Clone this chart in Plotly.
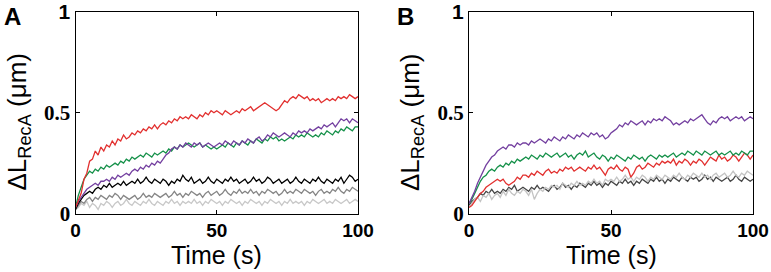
import plotly.graph_objects as go

TIME = list(range(0, 101))

# Panel A traces (ΔL_RecA, µm), one value per second
A_RED = [0.03, 0.07, 0.10, 0.17, 0.20, 0.26, 0.27, 0.31, 0.29, 0.33,
         0.31, 0.34, 0.33, 0.36, 0.34, 0.37, 0.36, 0.39, 0.37, 0.38,
         0.40, 0.39, 0.41, 0.40, 0.42, 0.41, 0.43, 0.42, 0.44, 0.42,
         0.44, 0.45, 0.44, 0.46, 0.45, 0.47, 0.46, 0.48, 0.47, 0.48,
         0.47, 0.49, 0.48, 0.47, 0.49, 0.48, 0.50, 0.49, 0.51, 0.50,
         0.51, 0.50, 0.49, 0.51, 0.50, 0.49, 0.50, 0.51, 0.50, 0.52,
         0.51, 0.52, 0.53, 0.51, 0.52, 0.53, 0.54, 0.55, 0.54, 0.53,
         0.52, 0.51, 0.52, 0.54, 0.56, 0.55, 0.57, 0.58, 0.57, 0.59,
         0.58, 0.57, 0.58, 0.56, 0.57, 0.56, 0.57, 0.55, 0.56, 0.57,
         0.56, 0.57, 0.56, 0.58, 0.57, 0.58, 0.57, 0.59, 0.58, 0.57, 0.58]
A_GREEN = [0.03, 0.09, 0.13, 0.17, 0.19, 0.21, 0.20, 0.22, 0.21, 0.23,
           0.22, 0.24, 0.23, 0.24, 0.25, 0.24, 0.26, 0.25, 0.27, 0.26,
           0.28, 0.27, 0.28, 0.29, 0.28, 0.30, 0.29, 0.28, 0.30, 0.29,
           0.30, 0.31, 0.30, 0.32, 0.31, 0.33, 0.32, 0.34, 0.33, 0.34,
           0.35, 0.34, 0.33, 0.34, 0.35, 0.33, 0.34, 0.33, 0.32, 0.33,
           0.32, 0.33, 0.34, 0.33, 0.35, 0.34, 0.33, 0.35, 0.34, 0.36,
           0.35, 0.34, 0.36, 0.35, 0.37, 0.36, 0.35, 0.37, 0.36, 0.38,
           0.37, 0.38, 0.36, 0.37, 0.36, 0.37, 0.38, 0.37, 0.39, 0.38,
           0.39, 0.38, 0.40, 0.39, 0.38, 0.39, 0.38, 0.40, 0.39, 0.41,
           0.40, 0.39, 0.41, 0.40, 0.42, 0.41, 0.43, 0.42, 0.41, 0.43, 0.43]
A_PURPLE = [0.03, 0.06, 0.08, 0.10, 0.12, 0.13, 0.14, 0.15, 0.14, 0.16,
            0.16, 0.17, 0.16, 0.18, 0.17, 0.19, 0.18, 0.19, 0.20, 0.19,
            0.21, 0.22, 0.21, 0.23, 0.22, 0.24, 0.23, 0.25, 0.24, 0.26,
            0.25, 0.27, 0.29, 0.30, 0.32, 0.33, 0.32, 0.34, 0.33, 0.35,
            0.34, 0.33, 0.35, 0.34, 0.35, 0.33, 0.34, 0.35, 0.34, 0.33,
            0.34, 0.35, 0.34, 0.36, 0.35, 0.34, 0.36, 0.35, 0.34, 0.36,
            0.35, 0.37, 0.36, 0.35, 0.37, 0.38, 0.36, 0.37, 0.39, 0.38,
            0.40, 0.39, 0.38, 0.39, 0.40, 0.39, 0.38, 0.40, 0.39, 0.41,
            0.40, 0.41, 0.40, 0.42, 0.41, 0.42, 0.43, 0.42, 0.44, 0.43,
            0.44, 0.45, 0.43, 0.45, 0.47, 0.46, 0.47, 0.45, 0.47, 0.46, 0.45]
A_BLACK = [0.02, 0.05, 0.07, 0.09, 0.10, 0.11, 0.10, 0.12, 0.13, 0.12,
           0.14, 0.13, 0.15, 0.13, 0.14, 0.15, 0.14, 0.16, 0.14, 0.15,
           0.16, 0.15, 0.17, 0.15, 0.16, 0.18, 0.16, 0.15, 0.17, 0.16,
           0.15, 0.17, 0.16, 0.14, 0.16, 0.15, 0.17, 0.16, 0.19, 0.17,
           0.16, 0.18, 0.15, 0.16, 0.17, 0.15, 0.16, 0.18, 0.16, 0.15,
           0.17, 0.16, 0.15, 0.17, 0.16, 0.18, 0.16, 0.17, 0.15, 0.16,
           0.17, 0.15, 0.16, 0.18, 0.16, 0.17, 0.15, 0.16, 0.18, 0.17,
           0.15, 0.16, 0.17, 0.15, 0.16, 0.17, 0.15, 0.16, 0.18, 0.16,
           0.15, 0.17, 0.16, 0.15, 0.17, 0.16, 0.18, 0.16, 0.15, 0.17,
           0.16, 0.15, 0.17, 0.16, 0.18, 0.15, 0.17, 0.19, 0.18, 0.16, 0.17]
A_DARKGRAY = [0.02, 0.04, 0.06, 0.05, 0.07, 0.08, 0.06, 0.08, 0.07, 0.09,
              0.08, 0.07, 0.09, 0.08, 0.10, 0.09, 0.07, 0.09, 0.08, 0.07,
              0.08, 0.09, 0.07, 0.08, 0.10, 0.08, 0.09, 0.08, 0.10, 0.09,
              0.08, 0.09, 0.10, 0.08, 0.09, 0.11, 0.09, 0.10, 0.08, 0.10,
              0.09, 0.11, 0.10, 0.09, 0.10, 0.08, 0.10, 0.11, 0.09, 0.10,
              0.11, 0.09, 0.10, 0.12, 0.10, 0.09, 0.11, 0.10, 0.12, 0.10,
              0.11, 0.10, 0.12, 0.10, 0.11, 0.09, 0.11, 0.10, 0.12, 0.11,
              0.10, 0.11, 0.09, 0.10, 0.12, 0.10, 0.11, 0.10, 0.12, 0.11,
              0.10, 0.12, 0.11, 0.10, 0.11, 0.09, 0.11, 0.12, 0.10, 0.11,
              0.10, 0.12, 0.11, 0.13, 0.11, 0.10, 0.12, 0.11, 0.13, 0.12, 0.11]
A_LIGHTGRAY = [0.02, 0.03, 0.05, 0.04, 0.06, 0.03, 0.05, 0.04, 0.02, 0.05,
               0.04, 0.06, 0.05, 0.03, 0.05, 0.06, 0.04, 0.05, 0.07, 0.05,
               0.04, 0.06, 0.05, 0.04, 0.06, 0.05, 0.07, 0.05, 0.04, 0.06,
               0.05, 0.04, 0.06, 0.05, 0.07, 0.05, 0.06, 0.04, 0.06, 0.05,
               0.06, 0.05, 0.07, 0.05, 0.06, 0.04, 0.06, 0.05, 0.07, 0.06,
               0.05, 0.06, 0.04, 0.06, 0.05, 0.07, 0.06, 0.05, 0.06, 0.04,
               0.06, 0.05, 0.07, 0.06, 0.05, 0.06, 0.04, 0.06, 0.05, 0.07,
               0.06, 0.05, 0.06, 0.04, 0.06, 0.05, 0.07, 0.05, 0.06, 0.05,
               0.06, 0.04, 0.06, 0.05, 0.07, 0.06, 0.05, 0.06, 0.07, 0.05,
               0.06, 0.05, 0.07, 0.06, 0.05, 0.06, 0.07, 0.05, 0.06, 0.07, 0.06]

# Panel B traces
B_PURPLE = [0.05, 0.08, 0.11, 0.15, 0.18, 0.21, 0.24, 0.26, 0.28, 0.29,
            0.31, 0.32, 0.33, 0.32, 0.34, 0.34, 0.33, 0.35, 0.34, 0.35,
            0.35, 0.34, 0.36, 0.35, 0.36, 0.37, 0.36, 0.35, 0.37, 0.36,
            0.38, 0.37, 0.36, 0.38, 0.37, 0.39, 0.38, 0.37, 0.39, 0.38,
            0.40, 0.39, 0.38, 0.40, 0.39, 0.40, 0.38, 0.39, 0.37, 0.38,
            0.40, 0.41, 0.42, 0.44, 0.43, 0.45, 0.44, 0.46, 0.45, 0.44,
            0.45, 0.46, 0.44, 0.46, 0.45, 0.47, 0.46, 0.47, 0.46, 0.48,
            0.47, 0.46, 0.44, 0.45, 0.44, 0.45, 0.46, 0.45, 0.47, 0.46,
            0.47, 0.48, 0.49, 0.47, 0.45, 0.44, 0.46, 0.45, 0.47, 0.48,
            0.47, 0.48, 0.46, 0.47, 0.48, 0.47, 0.48, 0.46, 0.47, 0.48, 0.47]
B_GREEN = [0.05, 0.07, 0.10, 0.13, 0.16, 0.18, 0.19, 0.21, 0.22, 0.21,
           0.23, 0.24, 0.23, 0.25, 0.24, 0.26, 0.25, 0.27, 0.26, 0.27,
           0.28, 0.27, 0.29, 0.28, 0.27, 0.29, 0.28, 0.30, 0.29, 0.28,
           0.29, 0.30, 0.28, 0.29, 0.30, 0.28, 0.29, 0.27, 0.29, 0.30,
           0.29, 0.31, 0.28, 0.29, 0.30, 0.28, 0.27, 0.29, 0.28, 0.26,
           0.28, 0.27, 0.29, 0.28, 0.27, 0.26, 0.28, 0.27, 0.29, 0.28,
           0.27, 0.28, 0.26, 0.28, 0.29, 0.28, 0.27, 0.29, 0.28, 0.29,
           0.28, 0.29, 0.30, 0.28, 0.29, 0.30, 0.29, 0.31, 0.30, 0.29,
           0.31, 0.30, 0.29, 0.31, 0.30, 0.29, 0.30, 0.31, 0.29, 0.30,
           0.29, 0.30, 0.31, 0.29, 0.30, 0.29, 0.31, 0.30, 0.29, 0.31, 0.31]
B_RED = [0.03, 0.04, 0.06, 0.08, 0.10, 0.11, 0.13, 0.14, 0.15, 0.16,
         0.17, 0.16, 0.17, 0.15, 0.14, 0.15, 0.16, 0.18, 0.17, 0.19,
         0.19, 0.18, 0.20, 0.19, 0.21, 0.20, 0.19, 0.21, 0.22, 0.20,
         0.21, 0.20, 0.22, 0.21, 0.23, 0.22, 0.23, 0.21, 0.22, 0.23,
         0.22, 0.21, 0.23, 0.22, 0.24, 0.22, 0.23, 0.21, 0.19, 0.22,
         0.23, 0.22, 0.24, 0.22, 0.21, 0.23, 0.22, 0.18, 0.20, 0.23,
         0.24, 0.22, 0.23, 0.25, 0.24, 0.23, 0.25, 0.24, 0.26, 0.25,
         0.26, 0.25, 0.27, 0.24, 0.26, 0.25, 0.27, 0.26, 0.24, 0.26,
         0.25, 0.27, 0.26, 0.24, 0.26, 0.28, 0.27, 0.26, 0.29, 0.27,
         0.28, 0.26, 0.27, 0.29, 0.28, 0.26, 0.28, 0.30, 0.29, 0.27, 0.29]
B_DARKGRAY = [0.04, 0.06, 0.07, 0.08, 0.10, 0.09, 0.11, 0.10, 0.12, 0.10,
              0.11, 0.10, 0.12, 0.11, 0.13, 0.12, 0.14, 0.11, 0.12, 0.13,
              0.12, 0.11, 0.13, 0.12, 0.14, 0.12, 0.13, 0.12, 0.11, 0.13,
              0.14, 0.12, 0.13, 0.15, 0.13, 0.14, 0.12, 0.14, 0.13, 0.15,
              0.14, 0.13, 0.15, 0.14, 0.16, 0.14, 0.15, 0.13, 0.15, 0.14,
              0.16, 0.15, 0.14, 0.16, 0.15, 0.17, 0.15, 0.16, 0.14, 0.16,
              0.15, 0.17, 0.16, 0.15, 0.17, 0.16, 0.18, 0.16, 0.17, 0.15,
              0.17, 0.16, 0.18, 0.17, 0.16, 0.18, 0.17, 0.16, 0.18, 0.17,
              0.18, 0.16, 0.17, 0.19, 0.17, 0.18, 0.16, 0.18, 0.17, 0.16,
              0.17, 0.18, 0.16, 0.17, 0.19, 0.17, 0.16, 0.18, 0.17, 0.16, 0.17]
B_LIGHTGRAY = [0.03, 0.05, 0.07, 0.08, 0.06, 0.09, 0.08, 0.10, 0.07, 0.09,
               0.10, 0.08, 0.11, 0.09, 0.12, 0.10, 0.09, 0.11, 0.10, 0.12,
               0.11, 0.09, 0.12, 0.07, 0.10, 0.12, 0.11, 0.13, 0.12, 0.14,
               0.13, 0.14, 0.12, 0.15, 0.14, 0.13, 0.15, 0.14, 0.16, 0.14,
               0.15, 0.14, 0.16, 0.15, 0.17, 0.15, 0.16, 0.14, 0.17, 0.16,
               0.17, 0.16, 0.18, 0.16, 0.17, 0.19, 0.17, 0.18, 0.16, 0.18,
               0.17, 0.19, 0.18, 0.16, 0.18, 0.17, 0.19, 0.18, 0.17, 0.19,
               0.18, 0.17, 0.19, 0.18, 0.20, 0.18, 0.17, 0.19, 0.18, 0.20,
               0.19, 0.18, 0.20, 0.18, 0.19, 0.17, 0.19, 0.20, 0.18, 0.19,
               0.20, 0.18, 0.19, 0.21, 0.19, 0.18, 0.20, 0.19, 0.21, 0.20, 0.19]

X_TICKS = [0, 50, 100]
X_TICK_TEXT = ["0", "50", "100"]
Y_TICKS = [0, 0.5, 1]
Y_TICK_TEXT = ["0", "0.5", "1"]
PANEL_LABELS = ["A", "B"]
X_TITLE = "Time (s)"
Y_TITLE = "ΔL<sub>RecA</sub> (μm)"

RED = "#e2302f"
GREEN = "#16914a"
PURPLE = "#7440a0"
BLACK = "#000000"

panel_a = [(A_LIGHTGRAY, "#c8c8c8"), (A_DARKGRAY, "#858585"), (A_BLACK, BLACK),
           (A_GREEN, GREEN), (A_PURPLE, PURPLE), (A_RED, RED)]
panel_b = [(B_DARKGRAY, "#454545"), (B_LIGHTGRAY, "#c4c4c4"), (B_RED, RED),
           (B_GREEN, GREEN), (B_PURPLE, PURPLE)]

fig = go.Figure()
for vals, col in panel_a:
    fig.add_trace(go.Scatter(x=TIME, y=vals, mode="lines", line=dict(color=col, width=1.3),
                             xaxis="x", yaxis="y", showlegend=False, hoverinfo="skip"))
for vals, col in panel_b:
    fig.add_trace(go.Scatter(x=TIME, y=vals, mode="lines", line=dict(color=col, width=1.3),
                             xaxis="x2", yaxis="y2", showlegend=False, hoverinfo="skip"))

W, H = 771, 272
y_dom = [1 - 213.5 / H, 1 - 12 / H]
xa_dom = [75.5 / W, 358 / W]
xb_dom = [469 / W, 753 / W]

SANS = "Liberation Sans, Arial, sans-serif"
SERIF = "Liberation Serif, Times New Roman, serif"

ytext = []
for t in Y_TICK_TEXT:
    fam = SANS if t == "1" else SERIF
    ytext.append("<span style=\"font-family:%s\"><b>%s</b></span>" % (fam, t))

def xax(dom, anchor):
    return dict(domain=dom, anchor=anchor, range=[0, 100], tickvals=X_TICKS,
                ticktext=["<b>%s</b>" % t for t in X_TICK_TEXT], automargin=False,
                ticks="inside", ticklen=4, tickcolor="black", showline=True, linecolor="black", linewidth=1,
                mirror="ticks", showgrid=False, zeroline=False,
                tickfont=dict(family=SANS, size=19, color="black"))

def yax(anchor):
    return dict(domain=y_dom, anchor=anchor, range=[0, 1], tickvals=Y_TICKS, ticktext=ytext, automargin=False,
                ticks="inside", ticklen=4, tickcolor="black", showline=True, linecolor="black", linewidth=1,
                mirror="ticks", showgrid=False, zeroline=False,
                tickfont=dict(family=SERIF, size=21, color="black"))

fig.update_layout(
    width=W, height=H, margin=dict(l=0, r=0, t=0, b=0, autoexpand=False),
    paper_bgcolor="white", plot_bgcolor="white",
    xaxis=xax(xa_dom, "y"), yaxis=yax("x"),
    xaxis2=xax(xb_dom, "y2"), yaxis2=yax("x2"),
)

anns = []
for lab, (x0, x1) in zip(PANEL_LABELS, [xa_dom, xb_dom]):
    left = x0 * W
    anns.append(dict(text="<b>%s</b>" % lab, x=(left - 63) / W, y=1 - 1 / H, xref="paper", yref="paper",
                     xanchor="center", yanchor="top", showarrow=False,
                     font=dict(family=SANS, size=24, color="black")))
    anns.append(dict(text=X_TITLE, x=((x0 + x1) / 2), y=1 - 255 / H, xref="paper", yref="paper",
                     xanchor="center", yanchor="middle", showarrow=False,
                     font=dict(family=SANS, size=25, color="black")))
    anns.append(dict(text=Y_TITLE, x=(left - 57) / W, y=1 - 122 / H, xref="paper", yref="paper",
                     xanchor="center", yanchor="middle", showarrow=False, textangle=-90,
                     font=dict(family=SANS, size=26, color="black")))
fig.update_layout(annotations=anns)

fig.write_html("out.html", config={"displayModeBar": False},
               post_script="document.body.style.margin='0px';")
